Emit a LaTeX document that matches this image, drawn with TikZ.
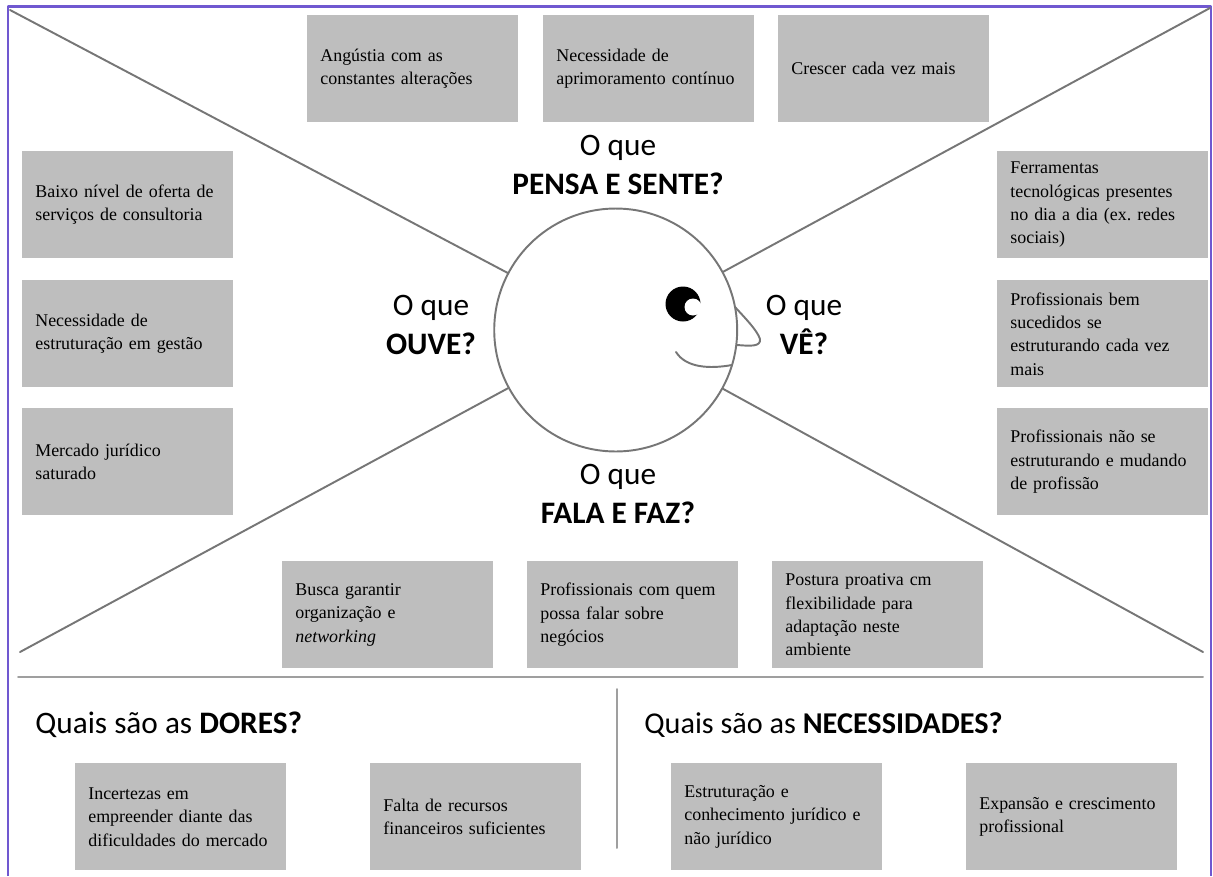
\documentclass[tikz,border=0pt]{standalone}
\usepackage{fontspec}
\setmainfont{Liberation Serif}
\newfontfamily\headfont{Carlito}
\definecolor{framecol}{RGB}{112,88,208}
\definecolor{boxcol}{RGB}{190,190,190}
\definecolor{rulecol}{RGB}{118,118,118}
\tikzset{
  cardbox/.style={fill=boxcol,anchor=north west,inner xsep=0.26cm,inner ysep=0pt,
    text width=3.69cm,minimum height=2.14cm,align=left,
    font=\fontsize{10.2}{13.3}\selectfont\frenchspacing},
  askline/.style={font=\headfont\fontsize{17.8}{22}\selectfont,align=center},
  askhead/.style={font=\headfont\fontsize{17.8}{22}\selectfont,anchor=west,inner sep=0pt},
  rule/.style={draw=rulecol,line width=1.1pt},
}

\begin{document}
\begin{tikzpicture}[x=0.02cm,y=-0.02cm,line cap=round,line join=round]
  \useasboundingbox (0,0) rectangle (1213,876);
  % outer frame, open at the bottom
  \draw[framecol,line width=1.5pt,line cap=butt] (8,876) -- (8,6.5) -- (1211,6.5) -- (1211,876);

  % head with the four rays
  \node[circle,rule,fill=white,minimum size=4.86cm,inner sep=0pt] (head) at (615.7,330) {};
  \coordinate (cornerTL) at (10,10);
  \coordinate (cornerTR) at (1210,8);
  \coordinate (cornerBL) at (20,652);
  \coordinate (cornerBR) at (1203,652);
  \draw[rule] (cornerTL) -- (head);
  \draw[rule] (cornerTR) -- (head);
  \draw[rule] (cornerBL) -- (head);
  \draw[rule] (cornerBR) -- (head);

  % face
  \fill (683,304) circle (17.5);
  \fill[white] (693,307) circle (8.5);
  \draw[rule] (735,307) .. controls (745,318) and (757,330) .. (760,339)
    .. controls (761,347) and (750,346) .. (737,345);
  \draw[rule] (676,352) .. controls (686,368) and (710,369) .. (732,365);

  % what the person thinks and feels
  \node[cardbox] (pensaA) at (307,15) {Angústia com as\\constantes alterações};
  \node[cardbox] (pensaB) at (543,15) {Necessidade de\\aprimoramento contínuo};
  \node[cardbox] (pensaC) at (778,15) {Crescer cada vez mais};
  \node[askline] (pensa) at (618,165) {O que\\\textbf{PENSA E SENTE?}};

  % what the person hears
  \node[cardbox] (ouveA) at (22,151) {Baixo nível de oferta de\\serviços de consultoria};
  \node[cardbox] (ouveB) at (22,280) {Necessidade de\\estruturação em gestão};
  \node[cardbox] (ouveC) at (22,408) {Mercado jurídico\\saturado};
  \node[askline] (ouve) at (431,325) {O que\\\textbf{OUVE?}};

  % what the person sees
  \node[cardbox] (veA) at (997,151) {Ferramentas\\tecnológicas presentes\\no dia a dia (ex. redes\\sociais)};
  \node[cardbox] (veB) at (997,280) {Profissionais bem\\sucedidos se\\estruturando cada vez\\mais};
  \node[cardbox] (veC) at (997,408) {Profissionais não se\\estruturando e mudando\\de profissão};
  \node[askline] (ve) at (804,325) {O que\\\textbf{VÊ?}};

  % what the person says and does
  \node[cardbox] (falaA) at (282,561) {Busca garantir\\organização e\\\textit{networking}};
  \node[cardbox] (falaB) at (527,561) {Profissionais com quem\\possa falar sobre\\negócios};
  \node[cardbox] (falaC) at (772,561) {Postura proativa cm\\flexibilidade para\\adaptação neste\\ambiente};
  \node[askline] (fala) at (618,494) {O que\\\textbf{FALA E FAZ?}};

  % lower band
  \coordinate (bandL) at (18,677);
  \coordinate (bandR) at (1203,677);
  \coordinate (sepT) at (617,689);
  \coordinate (sepB) at (617,848);
  \draw[rule,draw=rulecol!70] (bandL) -- (bandR);
  \draw[rule,draw=rulecol!70] (sepT) -- (sepB);

  \node[askhead] (dores) at (35,725) {Quais são as \textbf{DORES?}};
  \node[cardbox] (doresA) at (75,763) {Incertezas em\\empreender diante das\\dificuldades do mercado};
  \node[cardbox] (doresB) at (370,763) {Falta de recursos\\financeiros suficientes};

  \node[askhead,font=\headfont\fontsize{17.2}{22}\selectfont] (necess) at (644,725) {Quais são as \textbf{NECESSIDADES?}};
  \node[cardbox] (necessA) at (671,763) {Estruturação e\\conhecimento jurídico e\\não jurídico};
  \node[cardbox] (necessB) at (966,763) {Expansão e crescimento\\profissional};
\end{tikzpicture}
\end{document}
